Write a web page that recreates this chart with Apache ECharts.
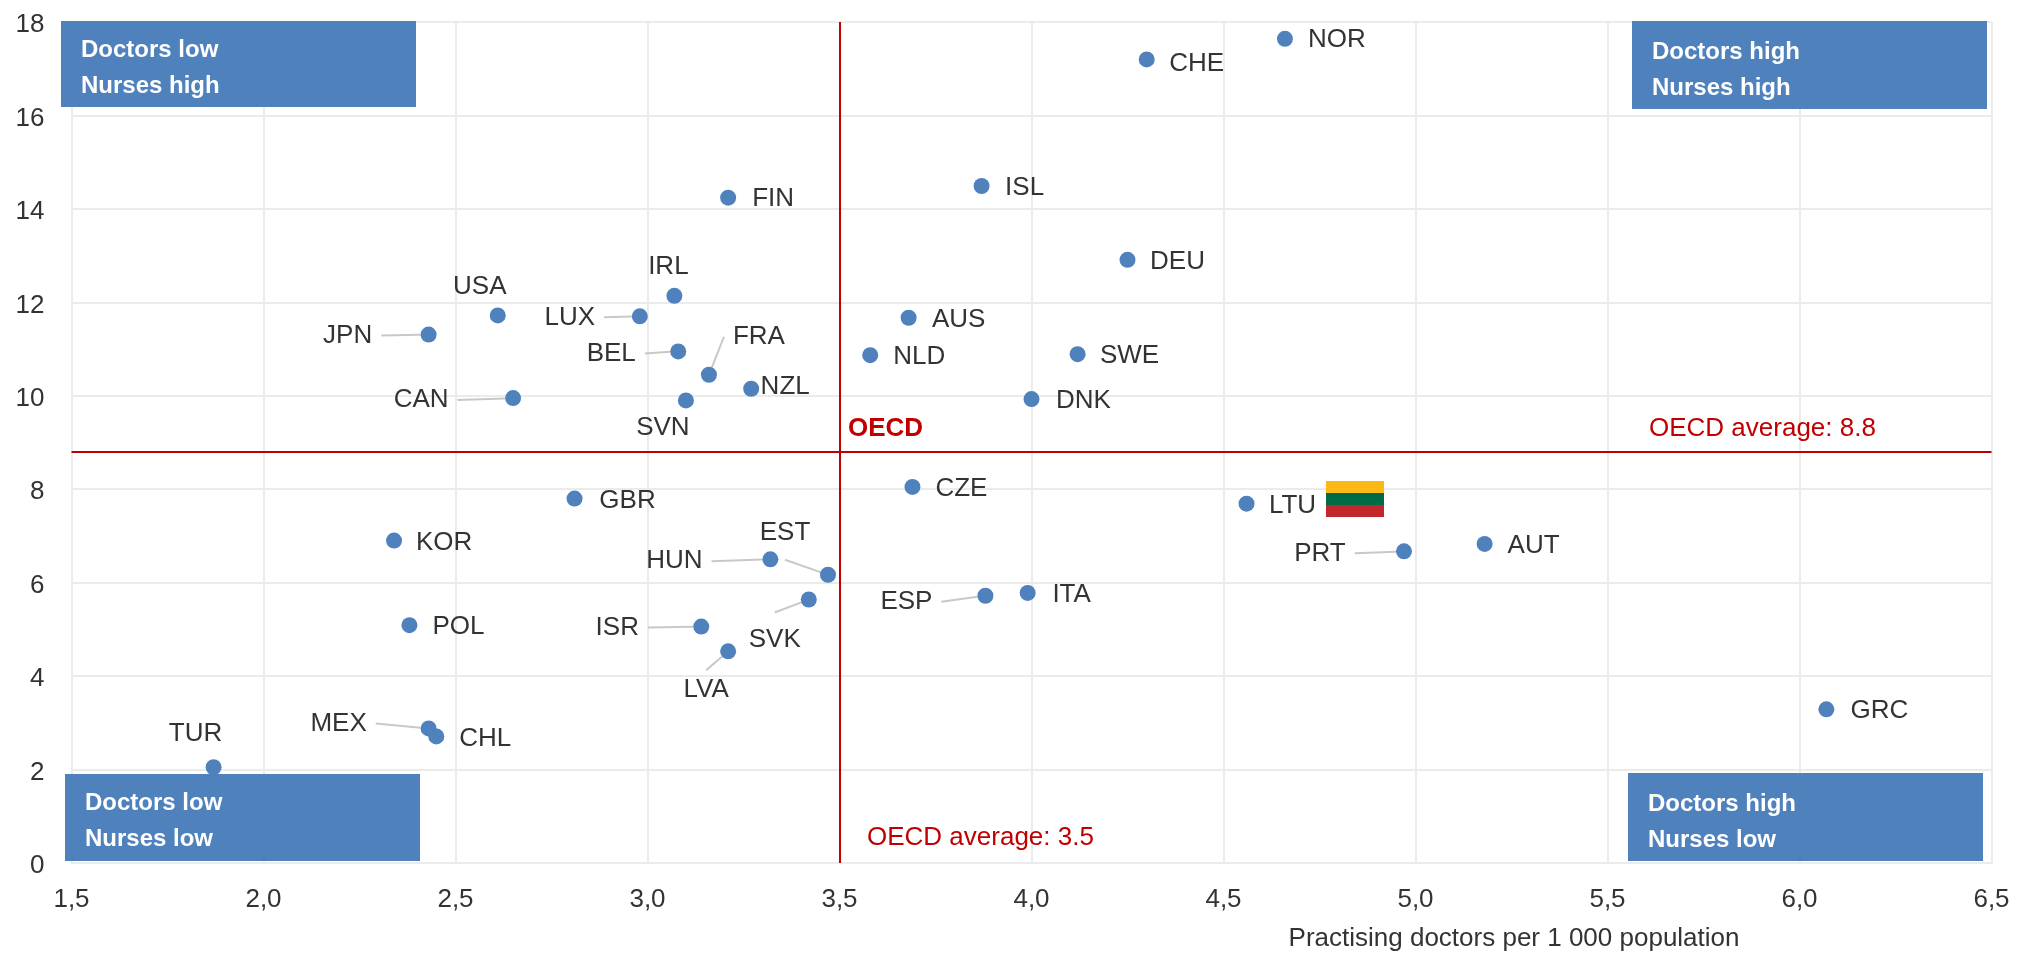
<!DOCTYPE html>
<html>
<head>
<meta charset="utf-8">
<script src="https://cdn.jsdelivr.net/npm/echarts@6/dist/echarts.min.js"></script>
<style>html,body{margin:0;background:#fff}#chart{width:2024px;height:953px}</style>
</head>
<body>
<div id="chart"></div>
<script>
var countries = ['NOR','CHE','FIN','ISL','DEU','IRL','USA','LUX','AUS','JPN','BEL','NLD','SWE','FRA','NZL','CAN','SVN','DNK','GBR','CZE','LTU','KOR','AUT','PRT','HUN','EST','ESP','ITA','SVK','POL','ISR','LVA','GRC','MEX','CHL','TUR'];
var doctors = [4.66,4.30,3.21,3.87,4.25,3.07,2.61,2.98,3.68,2.43,3.08,3.58,4.12,3.16,3.27,2.65,3.10,4.00,2.81,3.69,4.56,2.34,5.18,4.97,3.32,3.47,3.88,3.99,3.42,2.38,3.14,3.21,6.07,2.43,2.45,1.87];
var nurses = [17.64,17.2,14.24,14.49,12.91,12.14,11.72,11.7,11.67,11.31,10.95,10.87,10.89,10.45,10.15,9.95,9.9,9.93,7.8,8.05,7.69,6.9,6.83,6.67,6.5,6.17,5.72,5.78,5.64,5.09,5.06,4.53,3.29,2.88,2.71,2.05];
var avgDoctors = 3.5;
var avgNurses = 8.8;

// where each country name sits, relative to its dot
var labelOffsets = {
  NOR:[52,0],CHE:[50,3],FIN:[45,0],ISL:[43,1],DEU:[50,1],IRL:[-6,-30],USA:[-18,-30],LUX:[-70,0],AUS:[50,1],
  JPN:[-81,0],BEL:[-67,1],NLD:[49,1],SWE:[52,1],FRA:[50,-39],NZL:[34,-3],CAN:[-92,1],SVN:[-23,26],DNK:[52,1],
  GBR:[53,1],CZE:[49,1],LTU:[46,1],KOR:[50,1],AUT:[49,1],PRT:[-84,1],HUN:[-96,1],EST:[-43,-43],ESP:[-79,5],
  ITA:[44,1],SVK:[-34,39],POL:[49,1],ISR:[-84,0],LVA:[-22,37],GRC:[53,1],MEX:[-90,-6],CHL:[49,1],TUR:[-18,-34]
};
// gap kept between a name and its leader line
var leaderPadding = {
  JPN:[0,9],LUX:[0,9],BEL:[0,9],CAN:[0,9],HUN:[0,9],ISR:[0,9],ESP:[0,9],PRT:[0,9],MEX:[0,9],
  FRA:[0,9],EST:[14,0],SVK:[14,0],LVA:[6,0]
};

var FONT = '"Liberation Sans",Arial,sans-serif';
var BLUE = '#4f81bd';
var RED = '#c00000';
var TEXT = '#333333';
var GRID = '#ebebeb';

var points = countries.map(function (c, i) {
  var pad = leaderPadding[c];
  return {
    name: c,
    value: [doctors[i], nurses[i]],
    label: pad ? { padding: pad, backgroundColor: 'rgba(255,255,255,0)' } : {},
    labelLine: {
      show: !!pad,
      maxSurfaceAngle: c === 'FRA' ? 5 : 90,
      lineStyle: { color: '#c8c8c8', width: 2 }
    }
  };
});

function box(x, y, w, h, lines, textDy) {
  return {
    type: 'rect',
    z: 100,
    shape: { x: x, y: y, width: w, height: h },
    style: { fill: BLUE },
    textContent: {
      z: 101,
      style: {
        text: lines,
        fill: '#fff',
        font: 'bold 24px ' + FONT,
        lineHeight: 36
      }
    },
    textConfig: { position: 'insideLeft', distance: 20, offset: [0, textDy] }
  };
}

function note(x, y, text, bold) {
  return {
    type: 'text',
    z: 50,
    x: x,
    y: y,
    style: { text: text, fill: RED, font: (bold ? 'bold ' : '') + '26px ' + FONT, verticalAlign: 'middle' }
  };
}

function stripe(y, h, color) {
  return { type: 'rect', z: 50, shape: { x: 1326, y: y, width: 58, height: h }, style: { fill: color } };
}

var chart = echarts.init(document.getElementById('chart'));
chart.setOption({
  animation: false,
  backgroundColor: '#fff',
  grid: { left: 71.5, right: 32.5, top: 22, bottom: 90 },
  textStyle: { fontFamily: FONT },
  xAxis: {
    type: 'value',
    min: 1.5,
    max: 6.5,
    interval: 0.5,
    name: 'Practising doctors per 1 000 population',
    nameLocation: 'end',
    nameGap: -252,
    nameTextStyle: { color: TEXT, fontSize: 26, fontFamily: FONT, align: 'right', verticalAlign: 'top', padding: [63, 0, 0, 0] },
    axisLine: { show: true, lineStyle: { color: GRID, width: 2 } },
    axisTick: { show: false },
    axisLabel: {
      color: TEXT, fontSize: 26, fontFamily: FONT, margin: 24,
      formatter: function (v) { return v.toFixed(1).replace('.', ','); }
    },
    splitLine: { show: true, lineStyle: { color: GRID, width: 2 } }
  },
  yAxis: {
    type: 'value',
    min: 0,
    max: 18,
    interval: 2,
    axisLine: { show: true, lineStyle: { color: GRID, width: 2 } },
    axisTick: { show: false },
    // small line box, top aligned: nudges the numbers down onto their grid lines
    axisLabel: { color: TEXT, fontSize: 26, fontFamily: FONT, margin: 27, verticalAlign: 'top', lineHeight: 6 },
    splitLine: { show: true, lineStyle: { color: GRID, width: 2 } }
  },
  series: [{
    type: 'scatter',
    symbolSize: 16,
    itemStyle: { color: BLUE, opacity: 1 },
    label: {
      show: true,
      position: 'inside',
      color: TEXT,
      fontSize: 26,
      fontFamily: FONT,
      formatter: '{b}'
    },
    labelLayout: function (p) {
      var o = labelOffsets[countries[p.dataIndex]];
      return { dx: o[0], dy: o[1] + 1, hideOverlap: false };
    },
    data: points,
    markLine: {
      silent: true,
      symbol: 'none',
      label: { show: false },
      lineStyle: { color: RED, width: 2, type: 'solid' },
      data: [{ xAxis: avgDoctors }, { yAxis: avgNurses }]
    }
  }],
  graphic: [
    box(61, 21, 355, 86, 'Doctors low\nNurses high', 4),
    box(1632, 21, 355, 88, 'Doctors high\nNurses high', 5),
    box(65, 774, 355, 87, 'Doctors low\nNurses low', 4),
    box(1628, 773, 355, 88, 'Doctors high\nNurses low', 5),
    note(848, 429, 'OECD', true),
    note(1649, 429, 'OECD average: 8.8', false),
    note(867, 838, 'OECD average: 3.5', false),
    stripe(481, 12, '#fdb913'),
    stripe(493, 12, '#006a44'),
    stripe(505, 12, '#c1272d')
  ]
});
</script>
</body>
</html>
